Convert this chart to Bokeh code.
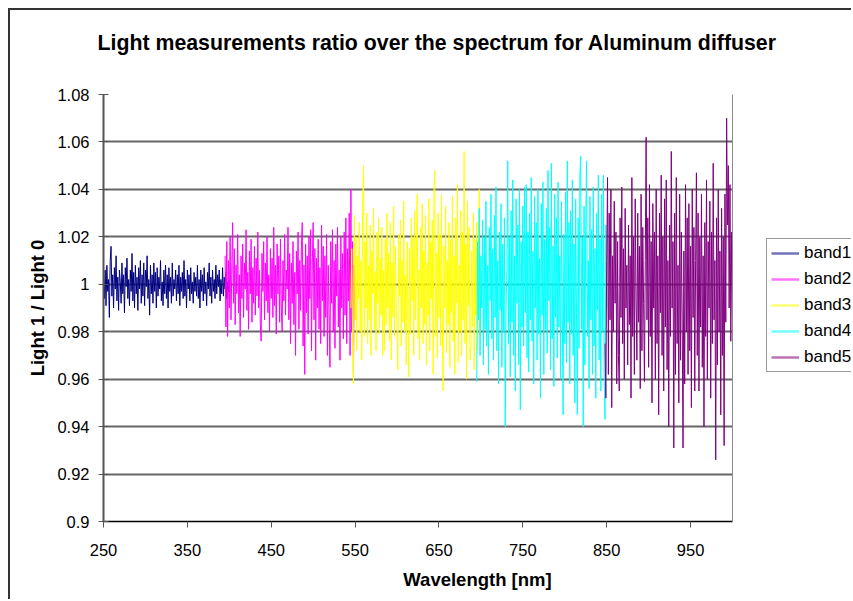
import numpy as np
from bokeh.plotting import figure
from bokeh.models import (Range1d, FixedTicker, CustomJSTickFormatter, Legend, LegendItem,
                          BoxAnnotation)
from bokeh.embed import file_html
from bokeh.resources import INLINE

# ---------------- data ----------------
band_names = ["band1", "band2", "band3", "band4", "band5"]
band_colors = ["#000080", "#FF00FF", "#FFFF00", "#00FFFF", "#800080"]

wl1 = np.arange(250, 401)
wl2 = np.arange(395, 551)
wl3 = np.arange(545, 701)
wl4 = np.arange(695, 851)
wl5 = np.arange(848, 1001)

band1 = [
    1.003, 0.994, 1.006, 0.991, 1.008, 0.997, 1.002, 0.986, 1.010, 1.016,
    0.995, 1.004, 0.990, 1.007, 0.998, 1.012, 0.993, 1.003, 0.989, 1.006,
    1.001, 0.992, 1.009, 0.996, 1.004, 0.988, 1.007, 0.999, 1.011, 0.994,
    1.002, 0.991, 1.006, 0.997, 1.013, 0.993, 1.005, 0.990, 1.008, 0.996,
    1.003, 0.989, 1.007, 0.998, 1.010, 0.992, 1.004, 0.995, 1.009, 0.991,
    1.006, 0.999, 1.012, 0.994, 1.002, 0.987, 1.008, 0.996, 1.004, 0.992,
    1.009, 0.997, 1.005, 0.990, 1.007, 0.995, 1.003, 0.998, 1.010, 0.993,
    1.001, 0.991, 1.006, 0.996, 1.008, 0.994, 1.004, 0.990, 1.007, 0.997,
    1.003, 0.992, 1.009, 0.995, 1.002, 0.998, 1.006, 0.993, 1.004, 0.996,
    1.008, 0.991, 1.003, 0.997, 1.005, 0.994, 1.010, 0.995, 1.002, 0.990,
    1.006, 0.998, 1.004, 0.993, 1.007, 0.996, 1.001, 0.992, 1.005, 0.997,
    1.003, 0.995, 1.008, 0.994, 1.002, 0.990, 1.006, 0.997, 1.004, 0.993,
    1.007, 0.996, 1.001, 0.991, 1.005, 0.998, 1.009, 0.995, 1.003, 0.992,
    1.006, 0.997, 1.002, 0.994, 1.008, 0.996, 1.004, 0.999, 1.006, 0.993,
    1.002, 0.996, 1.007, 0.995, 1.003, 0.998, 1.005, 0.994, 1.001, 0.997,
    1.002,
]

band2 = [
    1.012, 0.982, 1.018, 0.978, 1.010, 0.990, 1.020, 0.985, 1.006, 1.026,
    0.992, 1.015, 0.983, 1.008, 0.996, 1.021, 0.988, 1.004, 0.978, 1.012,
    0.994, 1.017, 0.986, 1.009, 0.998, 1.023, 0.989, 1.005, 0.981, 1.014,
    0.996, 1.019, 0.984, 1.007, 0.992, 1.016, 0.987, 1.011, 0.995, 1.022,
    0.990, 1.006, 0.983, 0.976, 1.013, 0.997, 1.018, 0.985, 1.009, 0.993,
    1.020, 0.988, 1.004, 0.980, 1.015, 0.994, 1.011, 0.986, 1.024, 0.991,
    1.008, 0.979, 1.017, 0.996, 1.012, 0.984, 1.019, 0.990, 0.980, 1.010,
    0.993, 1.021, 0.987, 1.006, 0.998, 1.024, 0.985, 1.013, 0.975, 1.009,
    0.992, 1.018, 0.983, 1.005, 0.970, 1.014, 0.996, 1.022, 0.981, 1.010,
    0.989, 1.016, 1.026, 0.974, 1.008, 0.962, 1.017, 0.988, 1.012, 0.979,
    1.020, 0.994, 1.023, 0.972, 1.009, 1.026, 0.985, 1.015, 0.968, 1.011,
    0.990, 1.019, 0.981, 1.007, 0.975, 1.025, 0.993, 1.016, 0.978, 1.012,
    0.986, 1.021, 0.970, 1.008, 0.988, 0.965, 1.018, 0.992, 1.023, 0.980,
    1.010, 0.973, 1.017, 0.995, 1.024, 0.982, 1.006, 0.968, 1.020, 0.990,
    1.013, 0.977, 1.022, 0.987, 1.028, 0.975, 1.015, 0.993, 1.030, 0.970,
    1.040, 0.980, 1.018, 0.963, 1.008, 0.985,
]

band3 = [
    0.990, 1.015, 0.975, 0.958, 1.029, 0.985, 1.020, 0.972, 1.012, 0.994,
    1.026, 0.980, 1.010, 0.968, 1.035, 1.050, 0.978, 1.018, 0.990, 1.030,
    0.975, 1.008, 0.985, 1.025, 0.970, 1.014, 0.996, 1.032, 0.981, 1.005,
    0.972, 1.022, 0.992, 1.028, 0.979, 1.011, 0.987, 1.024, 0.970, 1.006,
    0.972, 1.019, 0.983, 1.030, 0.990, 1.013, 0.976, 1.026, 0.968, 1.009,
    0.986, 1.033, 0.978, 1.016, 0.992, 0.981, 0.964, 1.021, 0.995, 1.027,
    0.974, 1.010, 0.984, 1.035, 0.980, 1.004, 0.966, 1.018, 0.989, 0.961,
    1.015, 0.979, 1.028, 0.993, 1.020, 0.970, 1.031, 0.985, 1.012, 1.038,
    0.977, 1.006, 0.968, 1.024, 0.990, 1.034, 0.975, 1.014, 0.983, 1.029,
    0.966, 1.009, 0.987, 1.036, 0.972, 1.018, 0.994, 1.027, 0.962, 1.040,
    1.048, 0.978, 1.013, 0.969, 1.030, 0.986, 1.021, 0.974, 1.038, 0.981,
    0.955, 1.016, 0.990, 1.033, 0.971, 1.010, 0.983, 1.026, 0.965, 1.019,
    0.988, 1.037, 0.976, 1.012, 0.962, 1.028, 0.992, 1.042, 0.967, 1.008,
    0.980, 1.031, 0.970, 1.022, 0.985, 1.056, 0.975, 1.017, 0.960, 1.035,
    0.991, 1.024, 0.968, 0.974, 1.014, 0.982, 1.030, 0.964, 1.019, 0.987,
    1.026, 0.972, 1.009, 1.040, 0.978, 1.002,
]

band4 = [
    0.959, 1.018, 0.985, 1.032, 0.970, 1.012, 0.990, 1.027, 0.966, 1.020,
    0.981, 1.035, 0.974, 1.008, 0.962, 1.024, 0.993, 1.038, 0.977, 1.015,
    0.968, 1.029, 0.986, 1.041, 0.972, 1.010, 0.958, 1.022, 0.989, 1.034,
    0.965, 1.017, 0.980, 1.028, 0.940, 0.990, 1.006, 1.052, 0.975, 1.020,
    0.961, 1.031, 0.984, 1.044, 0.970, 1.012, 0.955, 1.036, 0.992, 1.025,
    0.966, 1.040, 0.947, 1.018, 0.982, 1.033, 0.974, 1.041, 0.988, 1.042,
    0.969, 1.022, 0.963, 1.030, 0.985, 1.045, 0.976, 1.014, 0.958, 1.037,
    0.990, 1.026, 0.968, 1.040, 0.979, 1.011, 0.952, 1.034, 0.987, 1.043,
    0.962, 1.019, 0.981, 1.032, 0.971, 1.048, 0.993, 1.024, 0.964, 1.051,
    0.977, 1.016, 0.957, 1.038, 0.986, 1.028, 0.969, 1.043, 0.982, 1.012,
    0.960, 1.035, 0.990, 0.945, 1.021, 0.975, 1.039, 0.967, 1.052, 0.984,
    1.026, 0.958, 1.031, 0.979, 1.044, 0.970, 1.017, 0.950, 1.036, 0.988,
    0.945, 1.028, 0.973, 1.046, 1.054, 0.981, 1.020, 0.940, 1.033, 0.966,
    1.025, 1.052, 0.978, 1.010, 0.956, 1.037, 0.985, 1.023, 0.962, 1.041,
    0.974, 1.015, 0.952, 1.030, 0.989, 1.046, 0.968, 1.019, 0.955, 1.038,
    0.980, 1.046, 0.960, 0.943, 1.025, 0.990,
]

band5 = [
    0.975, 0.952, 1.010, 1.045, 0.962, 1.030, 0.985, 1.040, 0.948, 1.012,
    0.980, 1.035, 0.992, 1.022, 0.958, 1.018, 0.970, 0.955, 1.028, 0.986,
    1.041, 0.975, 1.015, 0.960, 1.032, 0.990, 1.008, 0.966, 1.025, 0.983,
    1.012, 0.952, 1.045, 0.978, 1.020, 0.962, 1.036, 0.995, 0.968, 1.030,
    0.984, 1.016, 0.956, 1.038, 0.972, 1.024, 0.992, 0.959, 1.010, 1.062,
    0.985, 1.028, 0.965, 1.042, 0.978, 1.018, 0.950, 1.034, 0.990, 1.022,
    0.960, 1.040, 0.975, 1.012, 0.945, 1.030, 0.988, 1.046, 0.970, 1.020,
    0.955, 1.036, 0.982, 1.044, 0.964, 1.010, 0.940, 1.025, 0.978, 1.056,
    0.990, 1.018, 0.931, 1.030, 0.962, 1.045, 0.975, 1.008, 0.950, 1.038,
    0.968, 1.022, 0.985, 0.931, 1.014, 0.958, 1.042, 0.980, 1.028, 0.962,
    1.034, 0.972, 1.016, 0.948, 1.040, 0.986, 1.024, 0.955, 1.010, 1.047,
    0.970, 1.030, 0.955, 1.020, 0.982, 1.038, 0.965, 1.012, 0.940, 1.026,
    0.978, 1.044, 0.960, 1.018, 0.990, 1.035, 0.952, 1.022, 0.975, 1.051,
    0.985, 1.010, 0.926, 1.028, 0.966, 1.040, 0.980, 1.014, 0.945, 1.032,
    0.970, 1.020, 0.932, 1.038, 0.984, 1.070, 1.025, 1.050, 0.990, 1.042,
    0.976, 1.022, 0.985,
]

x_min, x_max = 250, 1000
y_min, y_max = 0.9, 1.08
x_ticks = [250, 350, 450, 550, 650, 750, 850, 950]
y_ticks = [0.9, 0.92, 0.94, 0.96, 0.98, 1.0, 1.02, 1.04, 1.06, 1.08]

title_text = "Light measurements ratio over the spectrum for Aluminum diffuser"
x_title = "Wavelength [nm]"
y_title = "Light 1 / Light 0"

FONT = "Liberation Sans"

# ---------------- layout (pixels) ----------------
PLOT_W = 629      # width of the plotting area (250..1000)
SIDE_W = 119      # room to the right of the plotting area for the legend
FRAME_H = 427
x_end = x_max + (x_max - x_min) * SIDE_W / PLOT_W

p = figure(frame_width=PLOT_W + SIDE_W, frame_height=FRAME_H,
           output_backend="svg", toolbar_location=None,
           x_range=Range1d(x_min, x_end), y_range=Range1d(y_min, y_max),
           min_border_left=93, min_border_right=0,
           min_border_top=84, min_border_bottom=78)
p.styles = {"margin-left": "8px", "margin-top": "8px",
            "border-left": "2px solid #333333", "border-top": "2px solid #333333"}
p.background_fill_color = "white"
p.border_fill_color = "white"
p.outline_line_color = None

p.title.text = title_text
p.title.text_font = FONT
p.title.text_font_size = "21.3px"
p.title.text_font_style = "bold"
p.title.text_color = "black"
p.title.align = "left"
p.title.offset = -6
p.title.standoff = 0
p.title.padding = (0, 0, 0, 40)

p.xgrid.visible = False
p.ygrid.ticker = FixedTicker(ticks=y_ticks)
p.ygrid.grid_line_color = "#666666"
p.ygrid.grid_line_width = 2

p.xaxis.ticker = FixedTicker(ticks=x_ticks)
p.yaxis.ticker = FixedTicker(ticks=y_ticks)
p.xaxis.bounds = (x_min, x_max)
p.yaxis.bounds = (y_min, y_max)
p.yaxis.formatter = CustomJSTickFormatter(
    code="return tick.toFixed(2).replace(/0+$/, '').replace(/\\.$/, '');")
p.xaxis.minor_tick_line_color = None
p.yaxis.minor_tick_line_color = None

for ax in (p.xaxis[0], p.yaxis[0]):
    ax.major_label_text_font = FONT
    ax.major_label_text_font_size = "16.5px"
    ax.major_label_text_color = "black"
    ax.axis_label_text_font = FONT
    ax.axis_label_text_font_size = "18.5px"
    ax.axis_label_text_font_style = "bold"
    ax.axis_label_text_color = "black"

p.xaxis.axis_label = x_title
p.yaxis.axis_label = y_title
p.xaxis.axis_line_color = "black"
p.xaxis.axis_line_width = 1.5
p.xaxis.major_tick_line_color = "#555555"
p.xaxis.major_tick_in = 0
p.xaxis.major_tick_out = 6
p.xaxis.major_label_standoff = 16
p.xaxis.axis_label_standoff = 10

p.yaxis.axis_line_color = "#555555"
p.yaxis.axis_line_width = 2
p.yaxis.major_tick_line_color = "#555555"
p.yaxis.major_tick_in = 5
p.yaxis.major_tick_out = 5
p.yaxis.major_label_standoff = 9
p.yaxis.axis_label_standoff = 6

for wl, vals, color in zip([wl1, wl2, wl3, wl4, wl5],
                           [band1, band2, band3, band4, band5], band_colors):
    p.line(wl, vals, line_color=color, line_width=1.0)

# blank out the area right of the plotting region (legend area)
p.add_layout(BoxAnnotation(left=x_max, fill_color="white", fill_alpha=1.0,
                           line_color=None))
# plot-area right border
p.segment(x0=[x_max], y0=[y_min], x1=[x_max], y1=[y_max],
          line_color="#8c8c8c", line_width=1, level="overlay")

# legend swatches (renderers without visible points)
swatches = [p.line(x=[np.nan], y=[np.nan], line_color=c, line_width=2.5, line_alpha=0.55)
            for c in band_colors]
legend = Legend(items=[LegendItem(label=n, renderers=[r]) for n, r in zip(band_names, swatches)],
                location=(663, 149))
legend.label_text_font = FONT
legend.label_text_font_size = "17px"
legend.label_text_color = "black"
legend.glyph_width = 28
legend.glyph_height = 18
legend.label_height = 18
legend.label_standoff = 5
legend.spacing = 6
legend.padding = 4
legend.margin = 0
legend.border_line_color = "#333333"
legend.border_line_width = 1
legend.background_fill_color = "white"
legend.background_fill_alpha = 1
p.add_layout(legend, "center")

open("out.html", "w").write(file_html(p, INLINE))
